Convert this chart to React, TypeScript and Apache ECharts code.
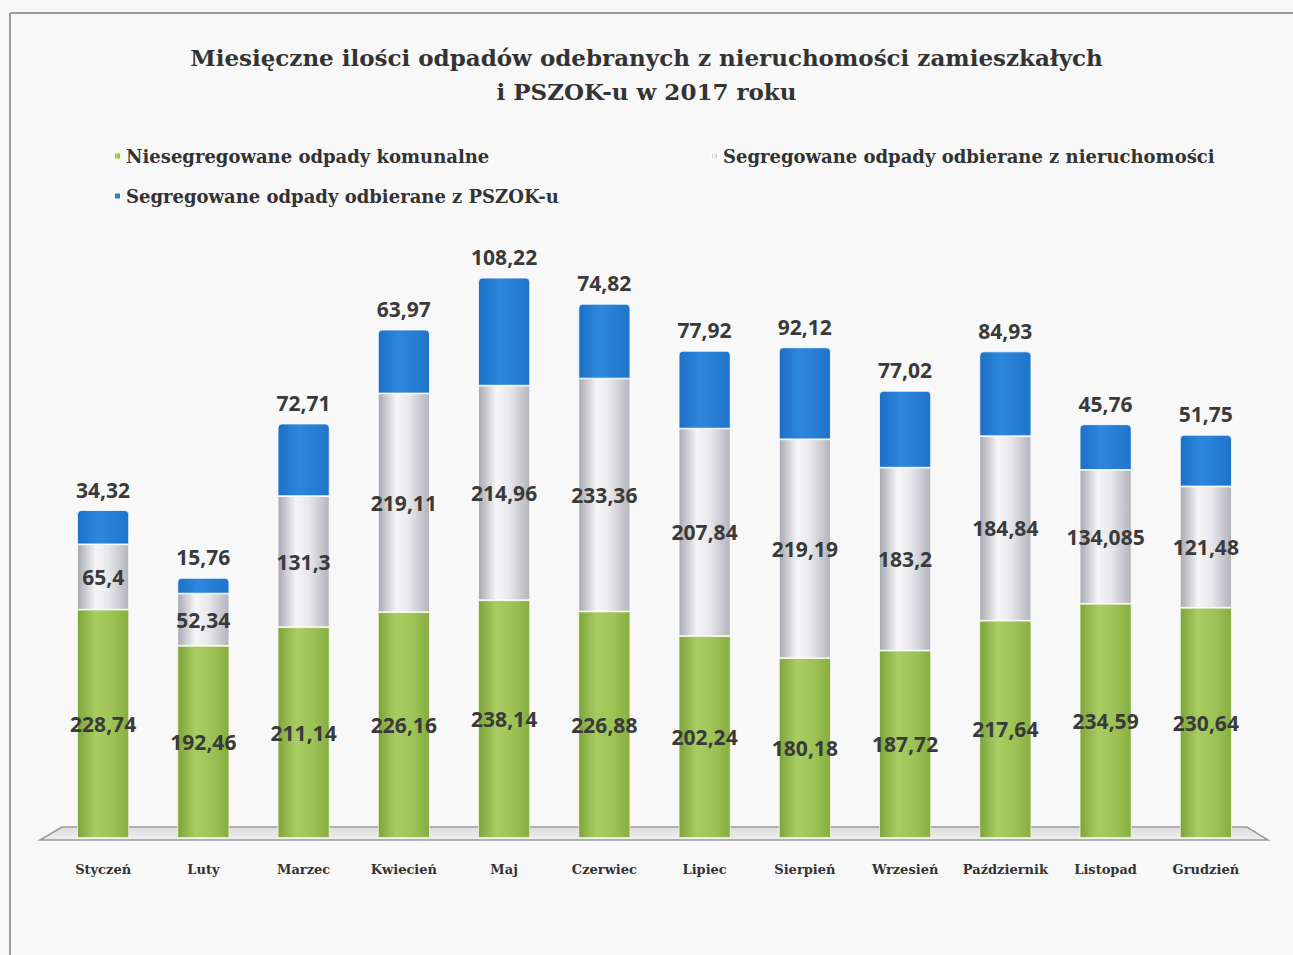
import React, { useEffect, useRef } from "react";
import * as echarts from "echarts";

const months = [
  "Styczeń", "Luty", "Marzec", "Kwiecień", "Maj", "Czerwiec",
  "Lipiec", "Sierpień", "Wrzesień", "Październik", "Listopad", "Grudzień",
];

const seriesNames = [
  "Niesegregowane odpady komunalne",
  "Segregowane odpady odbierane z nieruchomości",
  "Segregowane odpady odbierane z PSZOK-u",
];

const niesegregowane = [228.74, 192.46, 211.14, 226.16, 238.14, 226.88, 202.24, 180.18, 187.72, 217.64, 234.59, 230.64];
const segregowaneNier = [65.4, 52.34, 131.3, 219.11, 214.96, 233.36, 207.84, 219.19, 183.2, 184.84, 134.085, 121.48];
const segregowanePszok = [34.32, 15.76, 72.71, 63.97, 108.22, 74.82, 77.92, 92.12, 77.02, 84.93, 45.76, 51.75];

const fmt = (v: number) => String(v).replace(".", ",");

const grad = (stops: [number, string][]) =>
  new echarts.graphic.LinearGradient(1, 0, 0, 0, stops.map(([offset, color]) => ({ offset, color })), false);

export default function App() {
  const ref = useRef<HTMLDivElement>(null);

  useEffect(() => {
    if (!ref.current) return;
    const chart = echarts.init(ref.current, null, { renderer: "svg" });

    const labelStyle = {
      show: true,
      fontFamily: "Open Sans",
      fontWeight: 700,
      fontSize: 21,
      color: "#3a3a3a",
      formatter: (p: any) => fmt(p.value),
    };

    const green = grad([[0, "#86ad40"], [0.3, "#9cc255"], [0.65, "#a8cd62"], [1, "#7ea33a"]]);
    const gray = grad([[0, "#b3b3bb"], [0.4, "#e8e8ec"], [0.65, "#f6f6f8"], [1, "#a8a8b0"]]);
    const blue = grad([[0, "#1f74c9"], [0.6, "#2d88dd"], [1, "#1c6fc4"]]);

    const legendText = {
      fontFamily: "DejaVu Serif",
      fontWeight: "bold" as const,
      fontSize: 18,
      color: "#333333",
    };
    const legendBase = {
      icon: "rect",
      itemWidth: 7,
      itemHeight: 7,
      itemGap: 10,
      textStyle: legendText,
      selectedMode: false,
    };

    chart.setOption({
      animation: false,
      backgroundColor: "#f8f8f8",
      title: {
        text: "Miesięczne ilości odpadów odebranych z nieruchomości zamieszkałych\ni PSZOK-u w 2017 roku",
        left: "center",
        top: 35,
        textStyle: {
          fontFamily: "DejaVu Serif",
          fontWeight: "bold",
          fontSize: 23,
          lineHeight: 34,
          color: "#333333",
        },
      },
      legend: [
        { ...legendBase, data: [seriesNames[0]], left: 108, top: 142 },
        { ...legendBase, data: [seriesNames[1]], left: 705, top: 142 },
        { ...legendBase, data: [seriesNames[2]], left: 108, top: 182 },
      ],
      grid: { left: 53, right: 37, top: 239, bottom: 117 },
      xAxis: {
        type: "category",
        data: months,
        axisLine: { show: false },
        axisTick: { show: false },
        axisLabel: {
          interval: 0,
          margin: 25,
          fontFamily: "DejaVu Serif",
          fontWeight: "bold",
          fontSize: 13,
          color: "#333333",
        },
      },
      yAxis: {
        type: "value",
        min: 0,
        max: 600,
        show: false,
        splitLine: { show: false },
      },
      graphic: [
        {
          type: "line",
          shape: { x1: 10, y1: 13, x2: 1293, y2: 13 },
          style: { stroke: "#9a9a9a", lineWidth: 2 },
          silent: true,
        },
        {
          type: "line",
          shape: { x1: 10, y1: 13, x2: 10, y2: 955 },
          style: { stroke: "#9a9a9a", lineWidth: 2 },
          silent: true,
        },
        {
          type: "polygon",
          z: -10,
          shape: { points: [[62, 827], [1247, 827], [1268, 840], [40, 840]] },
          style: {
            fill: new echarts.graphic.LinearGradient(0, 0, 0, 1, [
              { offset: 0, color: "#dcdcdc" },
              { offset: 1, color: "#f0f0f0" },
            ]),
            stroke: "#9a9a9a",
            lineWidth: 1.5,
          },
          silent: true,
        },
      ],
      series: [
        {
          name: seriesNames[0],
          type: "bar",
          stack: "total",
          barWidth: 52,
          data: niesegregowane,
          itemStyle: { color: green, borderColor: "#f4f8ea", borderWidth: 0.8 },
          label: { ...labelStyle, position: "inside" },
        },
        {
          name: seriesNames[1],
          type: "bar",
          stack: "total",
          barWidth: 52,
          data: segregowaneNier,
          itemStyle: { color: gray, borderColor: "#ffffff", borderWidth: 0.8 },
          label: { ...labelStyle, position: "inside" },
        },
        {
          name: seriesNames[2],
          type: "bar",
          stack: "total",
          barWidth: 52,
          data: segregowanePszok,
          itemStyle: { color: blue, borderColor: "#ffffff", borderWidth: 0.8, borderRadius: [4, 4, 0, 0] },
          label: { ...labelStyle, position: "top", distance: 10 },
        },
      ],
    });

    return () => chart.dispose();
  }, []);

  return (
    <div
      ref={ref}
      style={{ position: "fixed", left: 0, top: 0, width: 1293, height: 955 }}
    />
  );
}
